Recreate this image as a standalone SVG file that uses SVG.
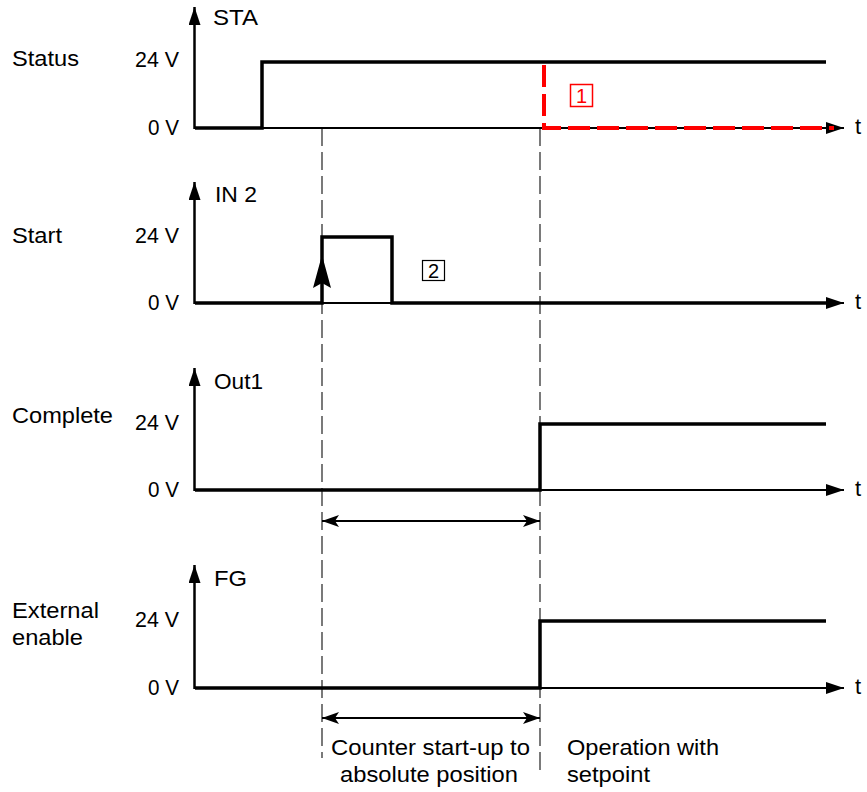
<svg xmlns="http://www.w3.org/2000/svg" width="867" height="792" viewBox="0 0 867 792">
<style>
text{font-family:"Liberation Sans",Arial,sans-serif;font-size:22px;fill:#000}
.sig{fill:none;stroke:#000;stroke-width:3.5;stroke-linejoin:miter;stroke-linecap:butt}
.axis{fill:none;stroke:#000;stroke-width:2}
.vaxis{fill:none;stroke:#000;stroke-width:2.5}
.guide{fill:none;stroke:#222;stroke-width:1.2;stroke-dasharray:18 6}
.dim{fill:none;stroke:#000;stroke-width:2}
.red{fill:none;stroke:#ff0000;stroke-width:4;stroke-dasharray:22 7}
.lbl{font-size:20px}
</style>
<defs>
<marker id="ah" viewBox="0 0 18 12" refX="18" refY="6" markerWidth="18" markerHeight="12" markerUnits="userSpaceOnUse" orient="auto-start-reverse">
<path d="M0,0 L18,6 L0,12 z" fill="#000"/>
</marker>
<marker id="ahd" viewBox="0 0 17 12" refX="17" refY="6" markerWidth="17" markerHeight="12" markerUnits="userSpaceOnUse" orient="auto-start-reverse">
<path d="M0,0 L17,6 L0,12 L4,6 z" fill="#000"/>
</marker>
</defs>

<g id="connectors">
<line class="guide" x1="322" y1="128" x2="322" y2="758"/>
<line class="guide" x1="540" y1="128" x2="540" y2="770"/>
<line class="dim" x1="322" y1="521" x2="540" y2="521" marker-start="url(#ahd)" marker-end="url(#ahd)"/>
<line class="dim" x1="322" y1="718" x2="540" y2="718" marker-start="url(#ahd)" marker-end="url(#ahd)"/>
</g>

<g id="status">
<line class="vaxis" x1="194.5" y1="129" x2="194.5" y2="7" marker-end="url(#ah)"/>
<line class="axis" x1="194" y1="128" x2="844" y2="128" marker-end="url(#ah)"/>
<path class="sig" d="M195,128 H262 V62 H826"/>
<path class="red" d="M544,65 V128 H834"/>
<rect x="570.5" y="84.5" width="22" height="22" fill="none" stroke="#ff0000" stroke-width="1.5"/>
<text class="lbl" x="581.5" y="103" text-anchor="middle" style="fill:#ff0000">1</text>
<text x="213" y="25" textLength="45" lengthAdjust="spacingAndGlyphs">STA</text>
<text x="12" y="66" textLength="67" lengthAdjust="spacingAndGlyphs">Status</text>
<text x="135" y="67" textLength="44" lengthAdjust="spacingAndGlyphs">24 V</text>
<text x="148" y="135" textLength="31" lengthAdjust="spacingAndGlyphs">0 V</text>
<text x="855" y="134">t</text>
</g>

<g id="start">
<line class="vaxis" x1="194.5" y1="304" x2="194.5" y2="182" marker-end="url(#ah)"/>
<line class="axis" x1="194" y1="303" x2="844" y2="303" marker-end="url(#ah)"/>
<path class="sig" d="M195,303 H322 V237 H392 V303 H826"/>
<path d="M322,255 L331,288 L322,283 L313,288 z" fill="#000"/>
<rect x="422.5" y="260.5" width="22" height="20" fill="none" stroke="#000" stroke-width="1.2"/>
<text class="lbl" x="433.5" y="278" text-anchor="middle">2</text>
<text x="215" y="202" textLength="42" lengthAdjust="spacingAndGlyphs">IN 2</text>
<text x="12" y="243" textLength="50" lengthAdjust="spacingAndGlyphs">Start</text>
<text x="135" y="243" textLength="44" lengthAdjust="spacingAndGlyphs">24 V</text>
<text x="148" y="310" textLength="31" lengthAdjust="spacingAndGlyphs">0 V</text>
<text x="855" y="309">t</text>
</g>

<g id="complete">
<line class="vaxis" x1="194.5" y1="491" x2="194.5" y2="368" marker-end="url(#ah)"/>
<line class="axis" x1="194" y1="490" x2="844" y2="490" marker-end="url(#ah)"/>
<path class="sig" d="M195,490 H540 V424 H826"/>
<text x="214" y="389" textLength="49" lengthAdjust="spacingAndGlyphs">Out1</text>
<text x="12" y="423" textLength="101" lengthAdjust="spacingAndGlyphs">Complete</text>
<text x="135" y="430" textLength="44" lengthAdjust="spacingAndGlyphs">24 V</text>
<text x="148" y="497" textLength="31" lengthAdjust="spacingAndGlyphs">0 V</text>
<text x="855" y="496">t</text>
</g>

<g id="external-enable">
<line class="vaxis" x1="194.5" y1="689" x2="194.5" y2="565" marker-end="url(#ah)"/>
<line class="axis" x1="194" y1="688" x2="844" y2="688" marker-end="url(#ah)"/>
<path class="sig" d="M195,688 H540 V621 H826"/>
<text x="214" y="586" textLength="33" lengthAdjust="spacingAndGlyphs">FG</text>
<text x="12" y="618" textLength="87" lengthAdjust="spacingAndGlyphs">External</text>
<text x="12" y="645" textLength="71" lengthAdjust="spacingAndGlyphs">enable</text>
<text x="135" y="627" textLength="44" lengthAdjust="spacingAndGlyphs">24 V</text>
<text x="148" y="695" textLength="31" lengthAdjust="spacingAndGlyphs">0 V</text>
<text x="855" y="694">t</text>
</g>

<g id="phase-labels">
<text x="331" y="755" textLength="199" lengthAdjust="spacingAndGlyphs">Counter start-up to</text>
<text x="340" y="782" textLength="178" lengthAdjust="spacingAndGlyphs">absolute position</text>
<text x="567" y="755" textLength="152" lengthAdjust="spacingAndGlyphs">Operation with</text>
<text x="567" y="782" textLength="83" lengthAdjust="spacingAndGlyphs">setpoint</text>
</g>
</svg>
